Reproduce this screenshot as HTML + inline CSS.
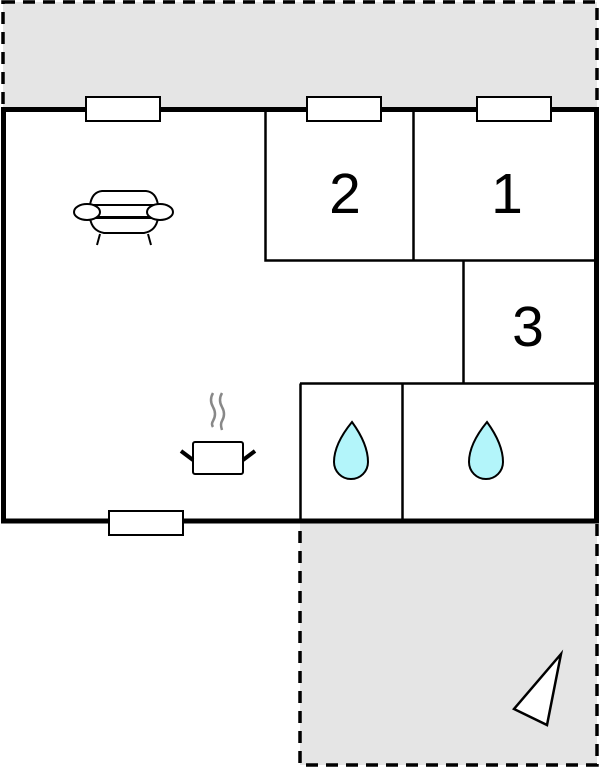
<!DOCTYPE html>
<html><head><style>html,body{margin:0;padding:0;background:#fff;width:600px;height:768px;overflow:hidden}</style></head>
<body>
<svg width="600" height="768" viewBox="0 0 600 768" xmlns="http://www.w3.org/2000/svg">
<rect x="3" y="2" width="594" height="107" fill="#e5e5e5" stroke="#000" stroke-width="3.5" stroke-dasharray="12,8"/>
<rect x="300" y="521" width="297" height="244" fill="#e5e5e5" stroke="#000" stroke-width="3.5" stroke-dasharray="12,8"/>
<rect x="3.5" y="109.5" width="593" height="411.5" fill="#fff" stroke="#000" stroke-width="5"/>
<g stroke="#000" stroke-width="2.5" fill="none">
<path d="M265.5 109V260.5H597M413.5 109V260.5M463.5 260.5V383.5M300 383.5H597M300.5 383.5V521M402.5 383.5V521"/>
</g>
<g fill="#fff" stroke="#000" stroke-width="2">
<rect x="86" y="97" width="74" height="24"/>
<rect x="307" y="97" width="74" height="24"/>
<rect x="477" y="97" width="74" height="24"/>
<rect x="109" y="511" width="74" height="24"/>
</g>
<g font-family="Liberation Sans, sans-serif" font-size="57" text-anchor="middle">
<text x="345" y="213">2</text>
<text x="507" y="213">1</text>
<text x="528" y="346">3</text>
</g>
<!-- armchair -->
<g fill="#fff" stroke="#000" stroke-width="2">
<path d="M90 205 Q92 192 102 191 H146 Q156 192 158 205 Z"/>
<path d="M90 218 Q92 231 104 233 H144 Q156 231 158 218 Z"/>
<line x1="100" y1="234" x2="97" y2="245"/><line x1="148" y1="234" x2="151" y2="245"/>
<line x1="98" y1="217" x2="150" y2="217"/>
<ellipse cx="87" cy="212" rx="13" ry="8"/>
<ellipse cx="160" cy="212" rx="13" ry="8"/>
</g>
<!-- pot -->
<g stroke="#888" stroke-width="2.5" fill="none">
<path d="M213 393 Q209 400 213 407 Q217 414 213 421 Q211 424 213 427"/>
<path d="M222 393 Q218 400 222 407 Q226 414 222 421 Q220 424 222 430"/>
</g>
<g stroke="#000">
<rect x="193" y="442" width="50" height="32" rx="2" fill="#fff" stroke-width="2"/>
<line x1="181" y1="451" x2="193" y2="460" stroke-width="4"/>
<line x1="243" y1="460" x2="255" y2="451" stroke-width="4"/>
</g>
<!-- drops -->
<g fill="#b3f5fa" stroke="#000" stroke-width="2">
<path d="M352 422 Q368 444 368 462 A16 16 0 0 1 334 462 Q334 444 352 422Z"/>
<path d="M487 422 Q503 444 503 462 A16 16 0 0 1 469 462 Q469 444 487 422Z"/>
</g>
<polygon points="561,654 514,709 547,725" fill="#fff" stroke="#000" stroke-width="2.5"/>
</svg>
</body></html>
